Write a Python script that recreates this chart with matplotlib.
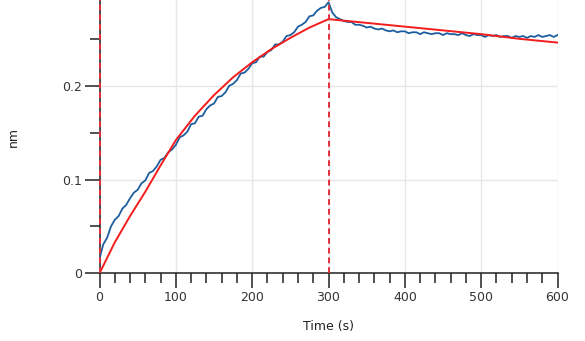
import numpy as np
import matplotlib
matplotlib.use("Agg")
from matplotlib import pyplot as plt
from matplotlib.ticker import FixedLocator, FixedFormatter

# measured response (nm), sampled every 5 s from 0 to 600 s
blue_t = np.arange(0, 601, 5)
blue_y = [
    0.016, 0.031, 0.038, 0.050, 0.057, 0.061, 0.069, 0.073, 0.080, 0.086,
    0.089, 0.096, 0.099, 0.107, 0.109, 0.114, 0.121, 0.123, 0.129, 0.132,
    0.137, 0.145, 0.147, 0.151, 0.159, 0.160, 0.167, 0.168, 0.175, 0.179,
    0.181, 0.188, 0.189, 0.193, 0.200, 0.202, 0.206, 0.213, 0.214, 0.218,
    0.224, 0.225, 0.231, 0.231, 0.236, 0.238, 0.244, 0.244, 0.247, 0.253,
    0.254, 0.257, 0.263, 0.265, 0.268, 0.274, 0.275, 0.280, 0.283, 0.284,
    0.289,
    0.278, 0.273, 0.271, 0.269, 0.268, 0.268, 0.265, 0.265, 0.264, 0.262,
    0.263, 0.261, 0.260, 0.261, 0.259, 0.258, 0.259, 0.257, 0.258, 0.258,
    0.256, 0.257, 0.257, 0.255, 0.257, 0.256, 0.255, 0.256, 0.256, 0.254,
    0.256, 0.255, 0.255, 0.254, 0.256, 0.254, 0.253, 0.255, 0.254, 0.254,
    0.252, 0.254, 0.253, 0.254, 0.252, 0.253, 0.253, 0.251, 0.253, 0.252,
    0.253, 0.251, 0.253, 0.252, 0.254, 0.252, 0.253, 0.254, 0.252, 0.254,
]

# fitted curve
fit_t = [0, 20, 40, 60, 80, 100, 125, 150, 175, 200, 225, 250, 275, 300,
         350, 400, 450, 500, 550, 600]
fit_y = [0.000, 0.033, 0.061, 0.087, 0.115, 0.142, 0.168, 0.190, 0.209, 0.225,
         0.239, 0.251, 0.262, 0.271, 0.267, 0.263, 0.259, 0.255, 0.250, 0.246]

step_t = [0, 300]
x_major = [0, 100, 200, 300, 400, 500, 600]
x_minor = [t for t in range(0, 601, 20) if t % 100 != 0]
y_major = [0, 0.1, 0.2, 0.3]
y_labels = ["0", "0.1", "0.2", "0.3"]
y_minor = [0.05, 0.15, 0.25]

plt.rcParams['font.family'] = ['DejaVu Sans']
fig = plt.figure(figsize=(5.85, 3.41), dpi=100)
ax = fig.add_axes([0.1701, 0.1985, 0.7829, 0.8015])

ax.plot(blue_t, blue_y, color='#1c5e9e', lw=1.3, zorder=3)
ax.plot(fit_t, fit_y, color='#f41c1c', lw=1.4, zorder=4)
for t in step_t:
    ax.axvline(t, color='#e0303a', lw=1.4, ls=(0, (3, 2)), zorder=5, clip_on=False)

ax.set_xlim(0, 600)
ax.set_ylim(0, 0.2914)

ax.xaxis.set_major_locator(FixedLocator(x_major))
ax.xaxis.set_minor_locator(FixedLocator(x_minor))
ax.yaxis.set_major_locator(FixedLocator(y_major))
ax.yaxis.set_major_formatter(FixedFormatter(y_labels))
ax.yaxis.set_minor_locator(FixedLocator(y_minor))

ax.tick_params(which='major', length=10.8, width=1.1, labelsize=9, pad=2, color='#222222', labelcolor='#333333')
ax.tick_params(which='minor', length=7.2, width=1.1, color='#222222')

ax.grid(True, which='major', color='#e6e6e6', lw=1.0, zorder=0)
ax.set_axisbelow(True)

for s in ['top', 'right']:
    ax.spines[s].set_visible(False)
for s in ['left', 'bottom']:
    ax.spines[s].set_linewidth(1.1)
    ax.spines[s].set_color('#222222')

ax.set_xlabel('Time (s)', fontsize=9, color='#222222')
ax.xaxis.label.set_va('center')
ax.xaxis.set_label_coords(0.5, -0.195)
ax.set_ylabel('nm', fontsize=9, color='#222222')
ax.yaxis.label.set_va('center')
ax.yaxis.set_label_coords(-0.189, 0.5)

fig.savefig('out.png', dpi=100)
